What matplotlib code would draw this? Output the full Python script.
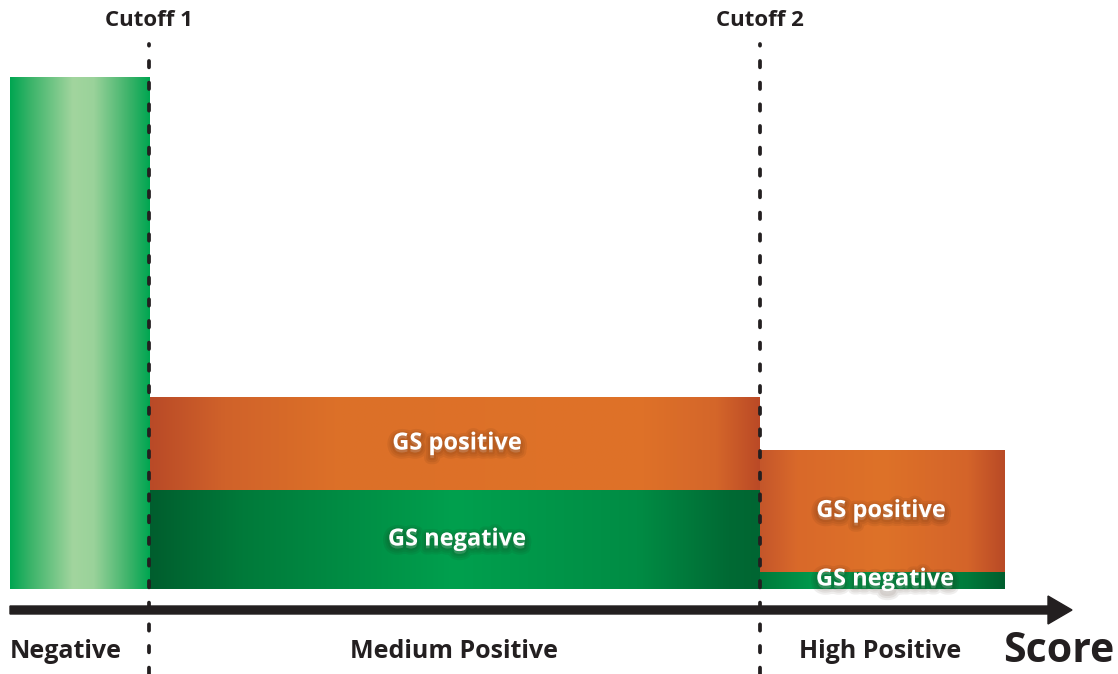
import numpy as np
import matplotlib.pyplot as plt
import matplotlib.patheffects as pe
from matplotlib.colors import LinearSegmentedColormap

plt.rcParams['font.family'] = ['Open Sans', 'DejaVu Sans']
plt.rcParams['lines.scale_dashes'] = False

# bar edges along the score axis and stacked heights
neg_edges = (10, 150)
med_edges = (150, 760)
high_edges = (760, 1005)
neg_height = 512
med_gs_negative = 99
med_gs_positive = 93
high_gs_negative = 17
high_gs_positive = 122
cutoffs = [149, 760]
cutoff_labels = ['Cutoff 1', 'Cutoff 2']
zone_labels = ['Negative', 'Medium Positive', 'High Positive']
zone_x = [10, 454, 880]

fig = plt.figure(figsize=(11.18, 6.74), dpi=100)
ax = fig.add_axes([0, 0, 1, 1])
ax.set_xlim(0, 1118)
ax.set_ylim(-85, 589)
ax.axis('off')


def grad_bar(x0, x1, y0, y1, stops):
    cm_ = LinearSegmentedColormap.from_list('g', stops)
    g = np.linspace(0, 1, 256).reshape(1, -1)
    ax.imshow(g, cmap=cm_, aspect='auto', extent=(x0, x1, y0, y1),
              interpolation='bilinear', zorder=1)


green_light = [(0, '#00a651'), (0.15, '#3cb46a'), (0.45, '#a2d59e'),
               (0.6, '#9ad29a'), (0.85, '#3db36a'), (1, '#00a651')]
orange_med = [(0, '#b94a27'), (0.12, '#d0622a'), (0.3, '#dc7028'),
              (0.8, '#df7228'), (0.93, '#d4662a'), (1, '#bb4a26')]
green_med = [(0, '#005e2e'), (0.15, '#007a3a'), (0.5, '#00a04e'),
             (0.8, '#008c44'), (0.95, '#006a34'), (1, '#006632')]
orange_high = [(0, '#c4562a'), (0.15, '#d9692a'), (0.5, '#de7228'),
               (0.85, '#d4642a'), (1, '#b94a26')]
green_high = [(0, '#007a3b'), (0.2, '#00974b'), (0.5, '#009a4c'),
              (0.85, '#007a3b'), (1, '#005e2e')]

grad_bar(neg_edges[0], neg_edges[1], 0, neg_height, green_light)
grad_bar(med_edges[0], med_edges[1], 0, med_gs_negative, green_med)
grad_bar(med_edges[0], med_edges[1], med_gs_negative,
         med_gs_negative + med_gs_positive, orange_med)
grad_bar(high_edges[0], high_edges[1], 0, high_gs_negative, green_high)
grad_bar(high_edges[0], high_edges[1], high_gs_negative,
         high_gs_negative + high_gs_positive, orange_high)

# cutoff lines (dash pattern in points, not scaled by width)
for c, lab in zip(cutoffs, cutoff_labels):
    ax.plot([c, c], [-85, 545], color='#231f20', lw=2.7, ls=(0, (4.6, 11.0)),
            dash_capstyle='round', zorder=3)
    ax.text(c, 568, lab, ha='center', va='center', fontsize=16,
            fontweight='bold', color='#231f20')

# score axis
ax.arrow(10, -21, 1038, 0, width=8, head_width=28, head_length=24,
         length_includes_head=False, color='#231f20', zorder=4)

ax.text(zone_x[0], -63, zone_labels[0], ha='left', va='center', fontsize=18,
        fontweight='bold', color='#231f20')
for x, lab in zip(zone_x[1:], zone_labels[1:]):
    ax.text(x, -63, lab, ha='center', va='center', fontsize=18,
            fontweight='bold', color='#231f20')
ax.text(1114, -63, 'Score', ha='right', va='center', fontsize=29.5,
        fontweight='bold', color='#231f20')

shadow = [pe.Stroke(offset=(0, -2), linewidth=lw, foreground='#2a1205',
                    alpha=0.07) for lw in (9, 6, 3)] + [pe.Normal()]
inner = [(457, med_gs_negative + med_gs_positive / 2, 'GS positive'),
         (457, med_gs_negative / 2, 'GS negative'),
         (881, high_gs_negative + high_gs_positive / 2, 'GS positive'),
         (885, high_gs_negative / 2 + 1, 'GS negative')]
for x, y, t in inner:
    ax.text(x, y, t, ha='center', va='center', fontsize=17, fontweight='bold',
            color='white', path_effects=shadow, zorder=5)

fig.savefig('out.png', dpi=100)
